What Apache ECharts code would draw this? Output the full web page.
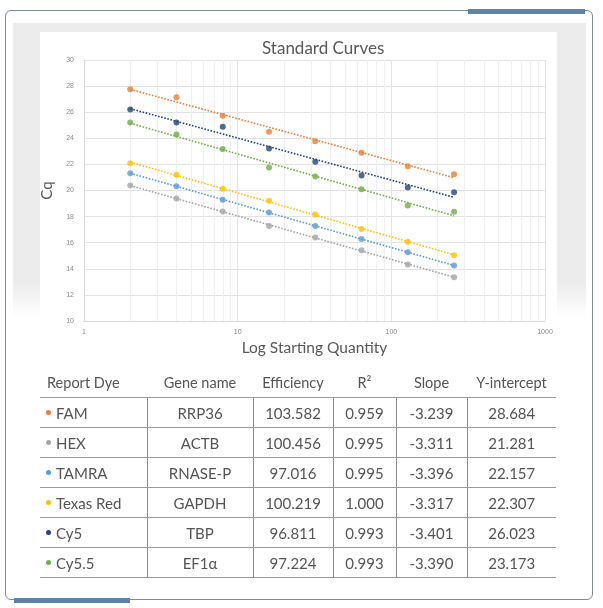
<!DOCTYPE html>
<html>
<head>
<meta charset="utf-8">
<script src="https://cdn.jsdelivr.net/npm/echarts@6/dist/echarts.min.js"></script>
<style>
  html, body { margin:0; padding:0; width:603px; height:608px; background:#fff; overflow:hidden; font-family: Lato, "Open Sans", sans-serif; }
  .abs { position:absolute; }
  #card { left:5px; top:10px; width:588px; height:590px; border:1px solid #7e8d9a; border-radius:6px; box-sizing:border-box; }
  #accTop { left:468px; top:9px; width:117px; height:5px; background:#5f83a8; }
  #accBot { left:14px; top:598px; width:116px; height:5px; background:#5f83a8; }
  #gray { left:13px; top:23px; width:573px; height:295px; background:linear-gradient(#ececec 0%, #ececec 88%, #ffffff 100%); }
  #white { left:40px; top:32px; width:517px; height:330px; background:#fff; }
  #chart { left:0; top:0; width:603px; height:608px; }
  table { position:absolute; left:40px; top:368px; width:516px; border-collapse:collapse; color:#555; font-size:15px; }
  th { font-weight:normal; font-size:14.5px; height:29px; border-bottom:1px solid #9a9a9a; text-align:center; padding:0; }
  td { height:29px; border-bottom:1px solid #9a9a9a; border-left:1px solid #8a8a8a; text-align:center; padding:0; }
  td:first-child { border-left:none; text-align:left; padding-left:6px; }
  th:first-child { text-align:left; padding-left:7px; }
  .dot { display:inline-block; width:5px; height:5px; border-radius:50%; margin-right:5px; vertical-align:middle; position:relative; top:-2px; }
</style>
</head>
<body>
<div id="gray" class="abs"></div>
<div id="white" class="abs"></div>
<div id="card" class="abs"></div>
<div id="accTop" class="abs"></div>
<div id="accBot" class="abs"></div>
<div id="chart" class="abs"></div>
<table id="tbl"></table>
<script>
// ---- Data ----
var quantities = [2, 4, 8, 16, 32, 64, 128, 256];
var dyes = ['FAM', 'HEX', 'TAMRA', 'Texas Red', 'Cy5', 'Cy5.5'];
var genes = ['RRP36', 'ACTB', 'RNASE-P', 'GAPDH', 'TBP', 'EF1\u03b1'];
var efficiency = ['103.582', '100.456', '97.016', '100.219', '96.811', '97.224'];
var r2 = ['0.959', '0.995', '0.995', '1.000', '0.993', '0.993'];
var slope = ['-3.239', '-3.311', '-3.396', '-3.317', '-3.401', '-3.390'];
var intercept = ['28.684', '21.281', '22.157', '22.307', '26.023', '23.173'];

var cqFAM      = [27.76, 27.15, 25.73, 24.50, 23.77, 22.90, 21.86, 21.25];
var cqHEX      = [20.38, 19.39, 18.40, 17.28, 16.39, 15.42, 14.33, 13.36];
var cqTAMRA    = [21.32, 20.33, 19.29, 18.32, 17.28, 16.29, 15.27, 14.25];
var cqTexasRed = [22.09, 21.20, 20.13, 19.21, 18.17, 17.05, 16.08, 15.04];
var cqCy5      = [26.21, 25.22, 24.89, 23.21, 22.21, 21.15, 20.23, 19.87];
var cqCy55     = [25.22, 24.30, 23.18, 21.76, 21.07, 20.10, 18.85, 18.37];

var yTicks = [10, 12, 14, 16, 18, 20, 22, 24, 26, 28, 30];
var xTicks = [1, 10, 100, 1000];
var minorX = [2,3,4,5,6,7,8,9,20,30,40,50,60,70,80,90,200,300,400,500,600,700,800,900];

var colors = ['#ed7d31', '#a5a5a5', '#5b9bd5', '#ffc000', '#264478', '#70ad47'];
var cqAll = [cqFAM, cqHEX, cqTAMRA, cqTexasRed, cqCy5, cqCy55];

// ---- Table ----
var tbl = document.getElementById('tbl');
var html = '<tr><th style="width:100px">Report Dye</th><th style="width:106px">Gene name</th><th style="width:80px">Efficiency</th><th style="width:63px">R\u00b2</th><th style="width:71px">Slope</th><th>Y-intercept</th></tr>';
for (var i = 0; i < dyes.length; i++) {
  html += '<tr><td><span class="dot" style="background:' + colors[i] + '"></span>' + dyes[i] + '</td><td>' + genes[i] +
    '</td><td>' + efficiency[i] + '</td><td>' + r2[i] + '</td><td>' + slope[i] + '</td><td>' + intercept[i] + '</td></tr>';
}
tbl.innerHTML = html;

// ---- Log-linear least-squares trendline (like a spreadsheet trendline) ----
function trend(ys) {
  var n = ys.length, sx = 0, sy = 0, sxx = 0, sxy = 0;
  for (var j = 0; j < n; j++) {
    var lx = Math.log10(quantities[j]);
    sx += lx; sy += ys[j]; sxx += lx * lx; sxy += lx * ys[j];
  }
  var m = (n * sxy - sx * sy) / (n * sxx - sx * sx);
  var b = (sy - m * sx) / n;
  var q0 = quantities[0], q1 = quantities[n - 1];
  return [[q0, b + m * Math.log10(q0)], [q1, b + m * Math.log10(q1)]];
}

// ---- Chart ----
var series = [];
for (var k = 0; k < dyes.length; k++) {
  series.push({
    name: dyes[k] + ' trend', type: 'line', silent: true, symbol: 'none',
    data: trend(cqAll[k]),
    lineStyle: { color: colors[k], width: 1.6, type: 'dotted' }, z: 2
  });
  series.push({
    name: dyes[k], type: 'scatter', symbolSize: 6,
    data: quantities.map(function (q, j) { return [q, cqAll[k][j]]; }),
    itemStyle: { color: colors[k] }, z: 3
  });
}
series.push({
  type: 'line', data: [], silent: true, z: 0,
  markLine: {
    silent: true, symbol: 'none', label: { show: false }, z: 0,
    lineStyle: { color: '#efefef', width: 1, type: 'solid' },
    data: minorX.map(function (v) { return { xAxis: v }; })
  }
});

var chart = echarts.init(document.getElementById('chart'), null, { renderer: 'canvas' });
chart.setOption({
  animation: false,
  backgroundColor: 'transparent',
  title: {
    text: 'Standard Curves', left: 257, top: 35,
    textStyle: { fontFamily: 'Lato', fontSize: 17, fontWeight: 'normal', color: '#595959' }
  },
  grid: { left: 84, right: 58, top: 60, bottom: 287 },
  xAxis: {
    type: 'log', logBase: 10, min: 1, max: 1000,
    name: 'Log Starting Quantity', nameLocation: 'middle', nameGap: 19,
    nameTextStyle: { fontFamily: 'Lato', fontSize: 15.5, color: '#595959' },
    axisLine: { show: true, lineStyle: { color: '#d9d9d9' } },
    axisTick: { show: false },
    axisLabel: { fontSize: 7, color: '#8c8c8c', margin: 8,
      formatter: function (v) { return xTicks.indexOf(Math.round(v)) >= 0 ? String(Math.round(v)) : ''; } },
    splitLine: { show: true, lineStyle: { color: '#e3e3e3' } }
  },
  yAxis: {
    type: 'value', min: yTicks[0], max: yTicks[yTicks.length - 1], interval: 2,
    name: 'Cq', nameLocation: 'middle', nameGap: 29, nameRotate: 90,
    nameTextStyle: { fontFamily: 'Lato', fontSize: 15, color: '#595959' },
    axisLine: { show: true, lineStyle: { color: '#d9d9d9' } },
    axisTick: { show: false },
    axisLabel: { fontSize: 7, color: '#8c8c8c', margin: 10 },
    splitLine: { show: true, lineStyle: { color: '#e3e3e3' } }
  },
  series: series
});
</script>
</body>
</html>
